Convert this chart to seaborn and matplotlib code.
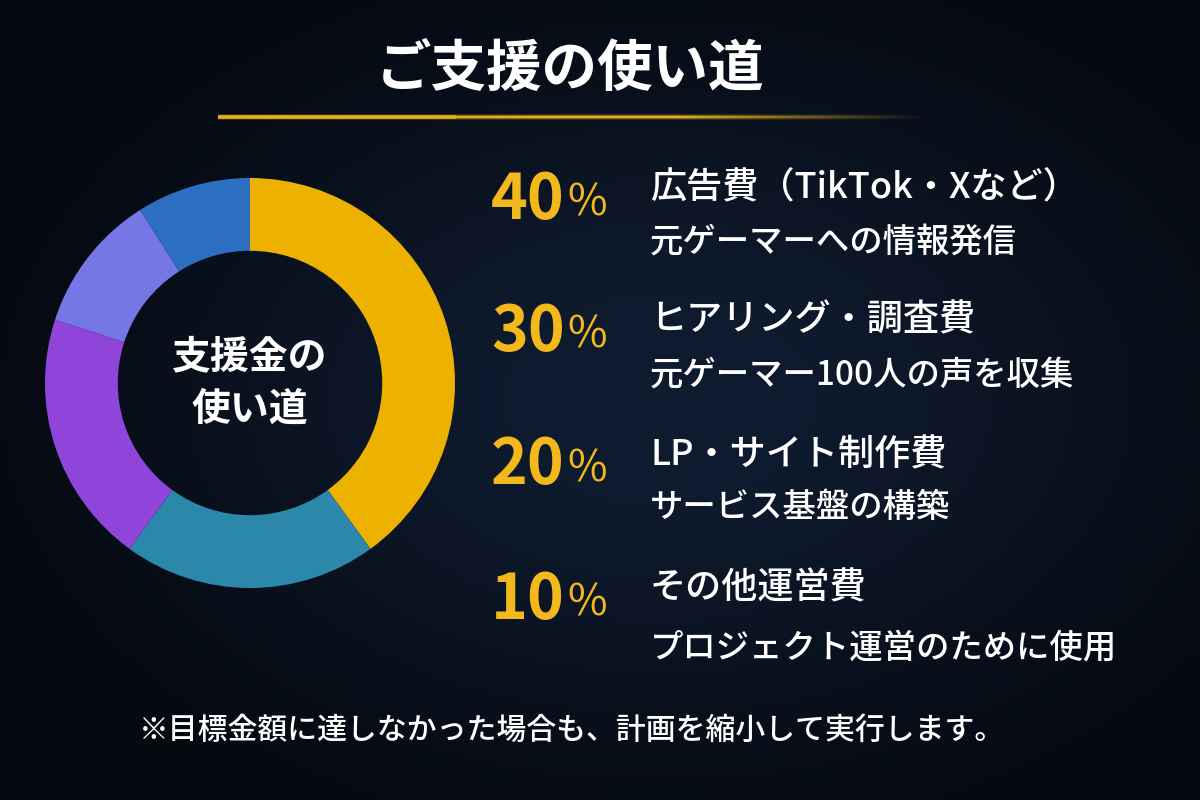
import numpy as np
import seaborn as sns
import matplotlib.pyplot as plt
from matplotlib.colors import to_rgb

# donut segments, clockwise from 12 o'clock
segment_shares = [40, 20, 20, 11, 9]
segment_colors = ["#EDB200", "#2B88AB", "#8F45D9", "#7577E6", "#2C6FC0"]

# list on the right
percents = [40, 30, 20, 10]
titles = ["広告費（TikTok・Xなど）", "ヒアリング・調査費", "LP・サイト制作費", "その他運営費"]
subtitles = ["元ゲーマーへの情報発信", "元ゲーマー100人の声を収集",
             "サービス基盤の構築", "プロジェクト運営のために使用"]

chart_title = "ご支援の使い道"
center_label = "支援金の\n使い道"
footnote = "※目標金額に達しなかった場合も、計画を縮小して実行します。"

sns.set_theme(style="dark")
plt.rcParams['font.family'] = ['Noto Sans CJK JP', 'DejaVu Sans']

BG = "#080e1a"
GOLD = "#F2B81C"

fig = plt.figure(figsize=(12, 8), dpi=100)
fig.patch.set_facecolor(BG)

# subtle lighter glow in the middle of the background
bg = fig.add_axes([0, 0, 1, 1], zorder=-1)
yy, xx = np.mgrid[0:1:200j, 0:1:300j]
glow = np.exp(-(((xx - 0.55) / 0.45) ** 2 + ((yy - 0.5) / 0.45) ** 2))
bg.imshow(glow, cmap=sns.blend_palette(["#04070d", "#0f1c30"], as_cmap=True),
          extent=[0, 1, 0, 1], aspect="auto", origin="lower")
bg.set_axis_off()

# donut
ax = fig.add_axes([45 / 1200, 1 - 588 / 800, 410 / 1200, 410 / 800])
ax.pie(segment_shares, colors=segment_colors, startangle=90, counterclock=False,
       radius=1, wedgeprops=dict(width=0.355, edgecolor="none"))
ax.set_aspect("equal")
ax.set_xlim(-1, 1)
ax.set_ylim(-1, 1)
ax.set_axis_off()
ax.text(0, 0, center_label, ha="center", va="center", color="white",
        fontsize=28, fontweight="bold", linespacing=1.45)

# title
fig.text(570 / 1200, 1 - 70 / 800, chart_title, ha="center", va="center",
         color="white", fontsize=40, fontweight="bold")

# gold brush underline: a thin strip fading out to the right
strip = fig.add_axes([218 / 1200, 1 - 120 / 800, 710 / 1200, 6 / 800])
t = np.linspace(0, 1, 400)
alpha = np.where(t < 0.65, 0.95, np.clip(0.95 * (1 - (t - 0.65) / 0.35), 0, 1))
prof = np.array([0.35, 0.9, 1.0, 1.0, 0.9, 0.35])[:, None]
rgba = np.zeros((6, 400, 4))
rgba[..., :3] = to_rgb(GOLD)
rgba[..., 3] = prof * alpha[None, :] * np.where(
    np.abs(np.arange(6) - 2.5)[:, None] > 1.5 + 1.5 * (1 - t[None, :]) - 1.0, 0.6, 1.0)
strip.imshow(rgba, aspect="auto", interpolation="bilinear")
strip.set_axis_off()

# list of uses
pct_y = [200, 332, 465, 600]
title_y = [188, 320, 455, 588]
sub_y = [243, 375, 508, 648]
for p, ttl, sub, py, ty, sy in zip(percents, titles, subtitles, pct_y, title_y, sub_y):
    fig.text(565 / 1200, 1 - py / 800, f"{p}", ha="right", va="center",
             color=GOLD, fontsize=45, fontweight="bold")
    fig.text(567 / 1200, 1 - (py + 4) / 800, "%", ha="left", va="center",
             color=GOLD, fontsize=31)
    fig.text(650 / 1200, 1 - ty / 800, ttl, ha="left", va="center",
             color="white", fontsize=26, fontweight="medium")
    fig.text(650 / 1200, 1 - sy / 800, sub, ha="left", va="center",
             color="white", fontsize=24, fontweight="medium")

fig.text(572 / 1200, 1 - 730 / 800, footnote, ha="center", va="center",
         color="white", fontsize=21.5, fontweight="medium")

fig.savefig("out.png", dpi=100, facecolor=BG)
